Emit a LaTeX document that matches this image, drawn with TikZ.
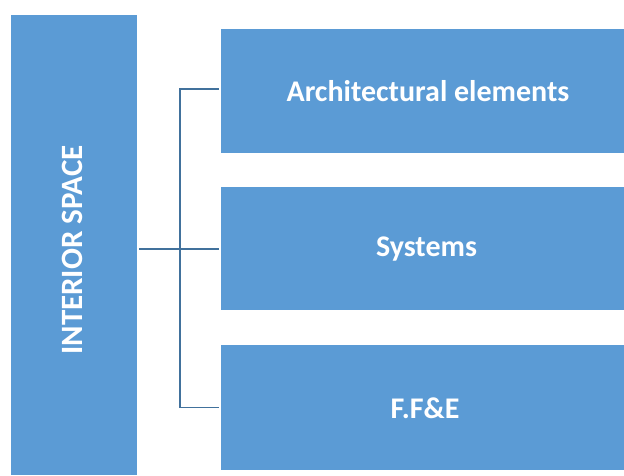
\documentclass[tikz,border=0pt]{standalone}
\usepackage{fontspec}
\setmainfont{Carlito}
\definecolor{boxblue}{HTML}{5B9BD5}
\definecolor{lineblue}{HTML}{41719C}
\begin{document}
\begin{tikzpicture}[x=1pt,y=-1pt,
  blk/.style={fill=boxblue,draw=none,inner sep=0pt},
  lbl/.style={text=white,inner sep=0pt,font=\bfseries\fontsize{30}{34}\selectfont},
  conn/.style={draw=lineblue,line width=1.6pt}]
\useasboundingbox (0,0) rectangle (624,475);
\node[blk,minimum width=126pt,minimum height=460pt] (main) at (74,245) {};
\node[lbl,font=\bfseries\fontsize{31}{34}\selectfont,rotate=90] (mainlbl) at (72,250) {INTERIOR SPACE};
\node[blk,minimum width=403pt,minimum height=124pt] (a) at (422.5,91) {};
\node[blk,minimum width=403pt,minimum height=123pt] (s) at (422.5,248.5) {};
\node[blk,minimum width=403pt,minimum height=125pt] (f) at (422.5,407.5) {};
\node[lbl] (alb) at (428,91) {Architectural elements};
\node[lbl] (slb) at (426.5,249) {Systems};
\node[lbl] (flb) at (425,408) {F.F\&E};
\coordinate (j) at (180,249);
\draw[conn,line width=2.6pt] (main.east |- j) ++(2,0) -- (j);
\draw[conn] (a.west) ++(-2,-2) -| (j) |- ([xshift=-2pt]f.west);
\draw[conn] (j) -- ([xshift=-2pt]s.west |- j);
\end{tikzpicture}
\end{document}
